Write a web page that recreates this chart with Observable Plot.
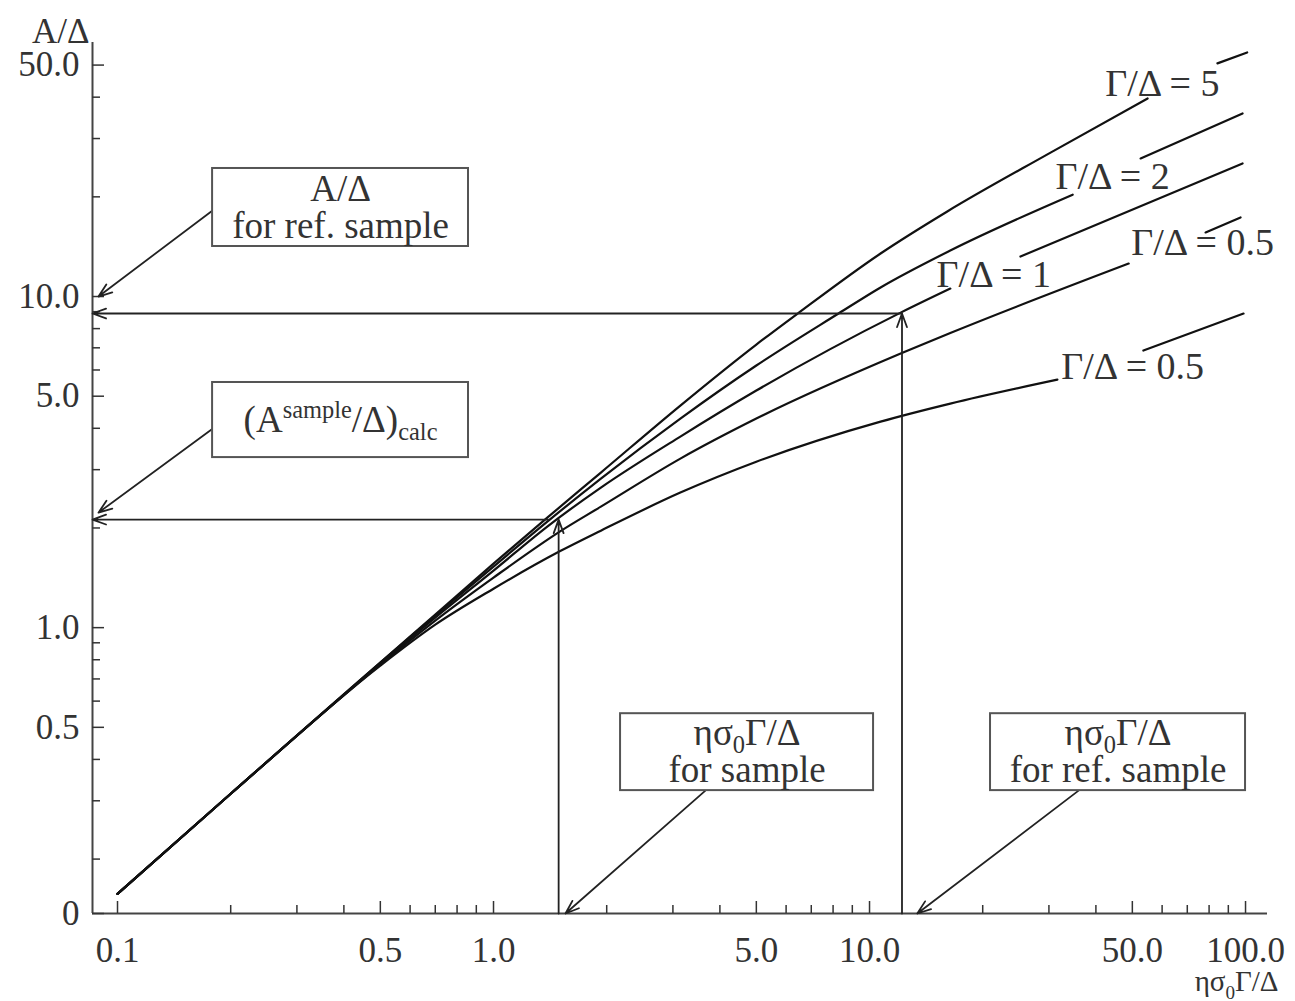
<!DOCTYPE html>
<html>
<head>
<meta charset="utf-8">
<script src="https://cdn.jsdelivr.net/npm/d3@7"></script>
<script src="https://cdn.jsdelivr.net/npm/@observablehq/plot@0.6"></script>
<style>
  html, body { margin: 0; padding: 0; background: #fff; }
</style>
</head>
<body>
<script>
// ---------- scales & ticks ----------
const xDomain = [0.0858, 114.4];
const yDomain = [0.137, 58.5];

const xTickValues = [0.1, 0.5, 1, 5, 10, 50, 100];
const xTickLabels = ["0.1", "0.5", "1.0", "5.0", "10.0", "50.0", "100.0"];
const xMinorTicks = [0.2, 0.3, 0.4, 0.6, 0.7, 0.8, 0.9, 2, 3, 4, 6, 7, 8, 9, 20, 30, 40, 60, 70, 80, 90];

const yTickValues = [0.137, 0.5, 1, 5, 10, 50];
const yTickLabels = ["0", "0.5", "1.0", "5.0", "10.0", "50.0"];
const yMinorTicks = [0.2, 0.3, 0.4, 0.6, 0.7, 0.8, 0.9, 2, 3, 4, 6, 7, 8, 9, 20, 30, 40];

// ---------- curves (null = gap where the label sits) ----------
const curveNames = ["Γ/Δ = 5", "Γ/Δ = 2", "Γ/Δ = 1", "Γ/Δ = 0.5 (upper)", "Γ/Δ = 0.5 (lower)"];

const c1X = [0.1, 0.2, 0.5, 0.7, 1.0, 1.39, 1.93, 3.14, 5.0, 6.44, 10.7, 16.1, 30.3, 54.9, null, 84.2, 101];
const c1Y = [0.157, 0.315, 0.784, 1.095, 1.561, 2.149, 2.94, 4.685, 7.16, 8.885, 13.49, 18.07, 27.2, 39.65, null, 50.6, 54.6];

const c2X = [0.1, 0.2, 0.5, 0.7, 1.0, 1.39, 1.93, 3.14, 5.0, 8.27, 10.7, 16.4, 34.7, null, 52.6, 98.2];
const c2Y = [0.157, 0.315, 0.784, 1.087, 1.529, 2.09, 2.819, 4.279, 6.19, 8.885, 10.65, 13.77, 20.3, null, 26.12, 35.72];

const c3X = [0.1, 0.2, 0.5, 0.7, 1.0, 1.39, 1.93, 3.14, 5.0, 12.1, 16.4, null, 25.2, 98.2];
const c3Y = [0.157, 0.315, 0.778, 1.072, 1.487, 2.02, 2.648, 3.776, 5.20, 8.94, 10.57, null, 13.21, 25.22];

const c4X = [0.1, 0.2, 0.5, 0.7, 1.0, 1.5, 1.93, 3.14, 5.0, 12.1, 16.4, 48.9, null, 78.3, 97.0];
const c4Y = [0.157, 0.315, 0.773, 1.05, 1.416, 1.95, 2.32, 3.24, 4.28, 6.727, 7.76, 12.58, null, 15.61, 17.33];

const c5X = [0.1, 0.2, 0.5, 0.7, 1.0, 1.5, 1.93, 3.14, 5.0, 10.7, 16.4, 31.6, null, 53.5, 98.8];
const c5Y = [0.157, 0.315, 0.768, 1.021, 1.311, 1.70, 1.963, 2.558, 3.17, 4.19, 4.75, 5.61, null, 6.868, 8.885];

// ---------- curve labels ----------
const labelText = ["Γ/Δ = 5", "Γ/Δ = 2", "Γ/Δ = 1", "Γ/Δ = 0.5", "Γ/Δ = 0.5"];
const labelX = [60.1, 44.3, 21.4, 76.9, 50.1];
const labelY = [44.0, 23.0, 11.65, 14.56, 6.14];

// ---------- annotation boxes ----------
const boxText = ["A/Δ\nfor ref. sample", "(A^{sample}/Δ)_{calc}", "ησ_{0}Γ/Δ\nfor sample", "ησ_{0}Γ/Δ\nfor ref. sample"];
const boxX1 = [0.179, 0.179, 2.177, 20.98];
const boxX2 = [0.858, 0.858, 10.25, 100];
const boxY1 = [14.16, 3.263, 0.322, 0.322];
const boxY2 = [24.36, 5.50, 0.5497, 0.5497];

// ---------- arrows ----------
const arrowX1 = [12.2, 12.2, 1.40, 1.49, 0.179, 0.179, 3.66, 35.97];
const arrowY1 = [8.885, 0.137, 2.12, 0.137, 18.2, 3.99, 0.322, 0.322];
const arrowX2 = [0.0858, 12.2, 0.0858, 1.49, 0.089, 0.089, 1.554, 13.4];
const arrowY2 = [8.885, 8.885, 2.12, 2.12, 10.0, 2.225, 0.137, 0.137];

// ---------- build tables ----------
const curveX = [c1X, c2X, c3X, c4X, c5X];
const curveY = [c1Y, c2Y, c3Y, c4Y, c5Y];
const curveRows = [];
curveNames.forEach((name, k) => {
  curveX[k].forEach((x, i) => curveRows.push({curve: name, x, y: curveY[k][i]}));
});
const labelRows = labelText.map((t, i) => ({t, x: labelX[i], y: labelY[i]}));
const boxRows = boxText.map((t, i) => ({t, x1: boxX1[i], x2: boxX2[i], y1: boxY1[i], y2: boxY2[i]}));
const arrowRows = arrowX1.map((_, i) => ({x1: arrowX1[i], y1: arrowY1[i], x2: arrowX2[i], y2: arrowY2[i]}));

const FONT = "'Liberation Serif', 'Times New Roman', serif";
const INK = "#333";

const chart = Plot.plot({
  width: 1295,
  height: 1001,
  marginLeft: 92,
  marginRight: 28,
  marginTop: 42,
  marginBottom: 88,
  style: {fontFamily: FONT, color: INK, background: "#fff"},
  x: {type: "log", domain: xDomain},
  y: {type: "log", domain: yDomain},
  marks: [
    Plot.ruleX([xDomain[0]], {stroke: "#444", strokeWidth: 2}),
    Plot.ruleY([yDomain[0]], {stroke: "#444", strokeWidth: 2}),
    Plot.axisX({ticks: xMinorTicks, tickSize: -8, tickFormat: () => "", label: null, strokeWidth: 1.5}),
    Plot.axisX({ticks: xTickValues, tickSize: -12, tickFormat: () => "", label: null, strokeWidth: 1.5}),
    Plot.axisY({ticks: yMinorTicks, tickSize: -8, tickFormat: () => "", label: null, strokeWidth: 1.5}),
    Plot.axisY({ticks: yTickValues, tickSize: -12, tickFormat: () => "", label: null, strokeWidth: 1.5}),
    // tick labels
    Plot.text(xTickValues, {x: d => d, text: (d, i) => xTickLabels[i], frameAnchor: "bottom",
      lineAnchor: "top", dy: 24, fontSize: 35, fill: INK}),
    Plot.text(yTickValues, {y: d => d, text: (d, i) => yTickLabels[i], frameAnchor: "left",
      textAnchor: "end", dx: -13, fontSize: 35, fill: INK}),
    Plot.line(curveRows, {x: "x", y: "y", z: "curve", stroke: "#111", strokeWidth: 2.2, curve: "monotone-x"}),
    Plot.arrow(arrowRows, {x1: "x1", y1: "y1", x2: "x2", y2: "y2", stroke: "#222", strokeWidth: 1.8,
      headLength: 12, headAngle: 40}),
    Plot.rect(boxRows, {x1: "x1", x2: "x2", y1: "y1", y2: "y2", fill: "#fff", stroke: "#555", strokeWidth: 2}),
    Plot.text(boxRows, {x: d => Math.sqrt(d.x1 * d.x2), y: d => Math.sqrt(d.y1 * d.y2), text: "t",
      fontSize: 37, lineHeight: 1.0, fill: INK}),
    Plot.text(labelRows, {x: "x", y: "y", text: "t", fontSize: 38, fill: INK}),
    Plot.text(["A/Δ"], {text: d => d, frameAnchor: "top-left", textAnchor: "end", dx: -3, dy: -24, fontSize: 35, fill: INK}),
    Plot.text(["ησ_{0}Γ/Δ"], {text: d => d, frameAnchor: "bottom-right", textAnchor: "end", dx: 11, dy: 77, fontSize: 29, fill: INK})
  ]
});

// turn ^{..} and _{..} into real super/subscript tspans
function applyScripts(root) {
  const ns = "http://www.w3.org/2000/svg";
  const nodes = Array.from(root.querySelectorAll("text, tspan"))
    .filter(n => n.children.length === 0 && /[_^]\{/.test(n.textContent));
  for (const node of nodes) {
    const s = node.textContent;
    node.textContent = "";
    const re = /([_^])\{([^}]*)\}/g;
    let last = 0, m, pending = 0;
    const add = (txt, size, dy) => {
      const t = document.createElementNS(ns, "tspan");
      t.textContent = txt;
      if (size) t.setAttribute("font-size", size);
      if (dy) t.setAttribute("dy", dy);
      node.appendChild(t);
    };
    while ((m = re.exec(s))) {
      if (m.index > last) { add(s.slice(last, m.index), null, pending); pending = 0; }
      const shift = m[1] === "^" ? -14 : 8;
      add(m[2], "0.66em", shift + pending);
      pending = -shift;
      last = re.lastIndex;
    }
    if (last < s.length) add(s.slice(last), null, pending);
  }
}
applyScripts(chart);
document.body.appendChild(chart);
</script>
</body>
</html>
